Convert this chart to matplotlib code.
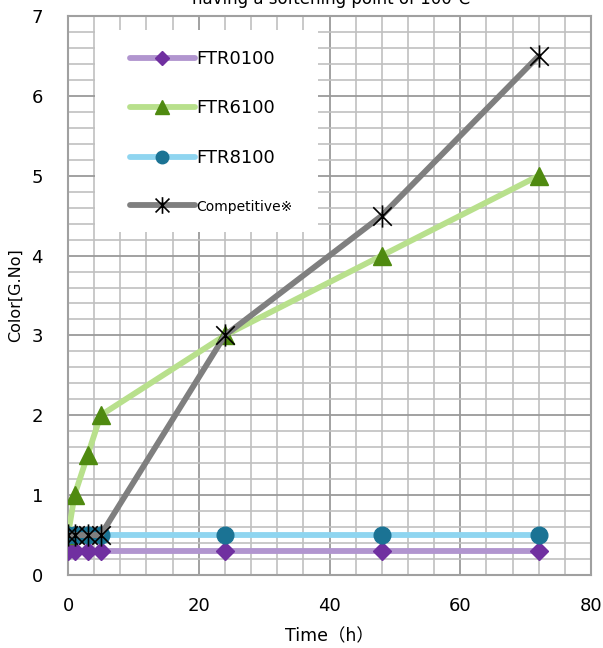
import matplotlib
matplotlib.use("Agg")
import matplotlib.pyplot as plt
from matplotlib.path import Path
from matplotlib.ticker import MultipleLocator
from matplotlib.patches import Rectangle

plt.rcParams['font.family'] = ['DejaVu Sans', 'Noto Sans CJK JP']

time_h = [0, 1, 3, 5, 24, 48, 72]
ftr0100 = [0.3, 0.3, 0.3, 0.3, 0.3, 0.3, 0.3]
ftr6100 = [0.5, 1.0, 1.5, 2.0, 3.0, 4.0, 5.0]
ftr8100 = [0.5, 0.5, 0.5, 0.5, 0.5, 0.5, 0.5]
competitive = [0.5, 0.5, 0.5, 0.5, 3.0, 4.5, 6.5]
series_names = ['FTR0100', 'FTR6100', 'FTR8100', 'Competitive※']

star_marker = Path(
    [(-1, -1), (1, 1), (-1, 1), (1, -1), (0, -1.2), (0, 1.2)],
    [Path.MOVETO, Path.LINETO, Path.MOVETO, Path.LINETO, Path.MOVETO, Path.LINETO])

fig = plt.figure(figsize=(6.03, 6.48), dpi=100)
ax = fig.add_axes([68/603, 1-575/648, 523/603, 559/648])

lw = 4.2
ax.plot(time_h, ftr0100, color='#b195cf', lw=lw, marker='D', ms=9,
        mfc='#7030a0', mec='#7030a0', label=series_names[0], zorder=3, solid_capstyle='round')
ax.plot(time_h, ftr6100, color='#b8e08c', lw=lw, marker='^', ms=13,
        mfc='#4f8a10', mec='#4f8a10', label=series_names[1], zorder=3, solid_capstyle='round')
ax.plot(time_h, ftr8100, color='#8fd5f0', lw=lw, marker='o', ms=12,
        mfc='#1b7394', mec='#1b7394', label=series_names[2], zorder=3, solid_capstyle='round')
ax.plot(time_h, competitive, color='#7f7f7f', lw=lw, marker=star_marker, ms=16,
        mfc='none', mec='black', mew=1.2, label=series_names[3], zorder=4, solid_capstyle='round')

ax.set_xlim(0, 80)
ax.set_ylim(0, 7)
ax.xaxis.set_major_locator(MultipleLocator(20))
ax.xaxis.set_minor_locator(MultipleLocator(4))
ax.yaxis.set_major_locator(MultipleLocator(1))
ax.yaxis.set_minor_locator(MultipleLocator(0.2))
ax.grid(which='major', color='#9a9a9a', lw=1.3)
ax.grid(which='minor', color='#c0c0c0', lw=1.2)
ax.set_axisbelow(True)
ax.tick_params(which='both', length=0, labelsize=13)
ax.tick_params(axis='x', pad=16)
ax.tick_params(axis='y', pad=18)
for s in ax.spines.values():
    s.set_color('#a0a0a0')
    s.set_linewidth(1.5)

ax.set_xlabel('Time（h）', fontsize=12.5, labelpad=9)
ax.set_ylabel('Color[G.No]', fontsize=11.5, labelpad=6)

ax.add_patch(Rectangle((0.052, 0.614), 0.426, 0.361, transform=ax.transAxes,
                       facecolor='white', edgecolor='none', zorder=2.5))
leg = ax.legend(loc='upper left', bbox_to_anchor=(0.08, 0.975), frameon=False,
                handlelength=3.6, labelspacing=1.75, borderpad=1.1, handletextpad=0.1,
                fontsize=13, borderaxespad=0, markerscale=0.75)
leg.get_texts()[3].set_fontsize(10)
leg.set_zorder(5)

fig.text(0.55, 1 - 4/648, 'having a softening point of 100℃', ha='center', va='baseline', fontsize=12)

fig.savefig('out.png', dpi=100)
